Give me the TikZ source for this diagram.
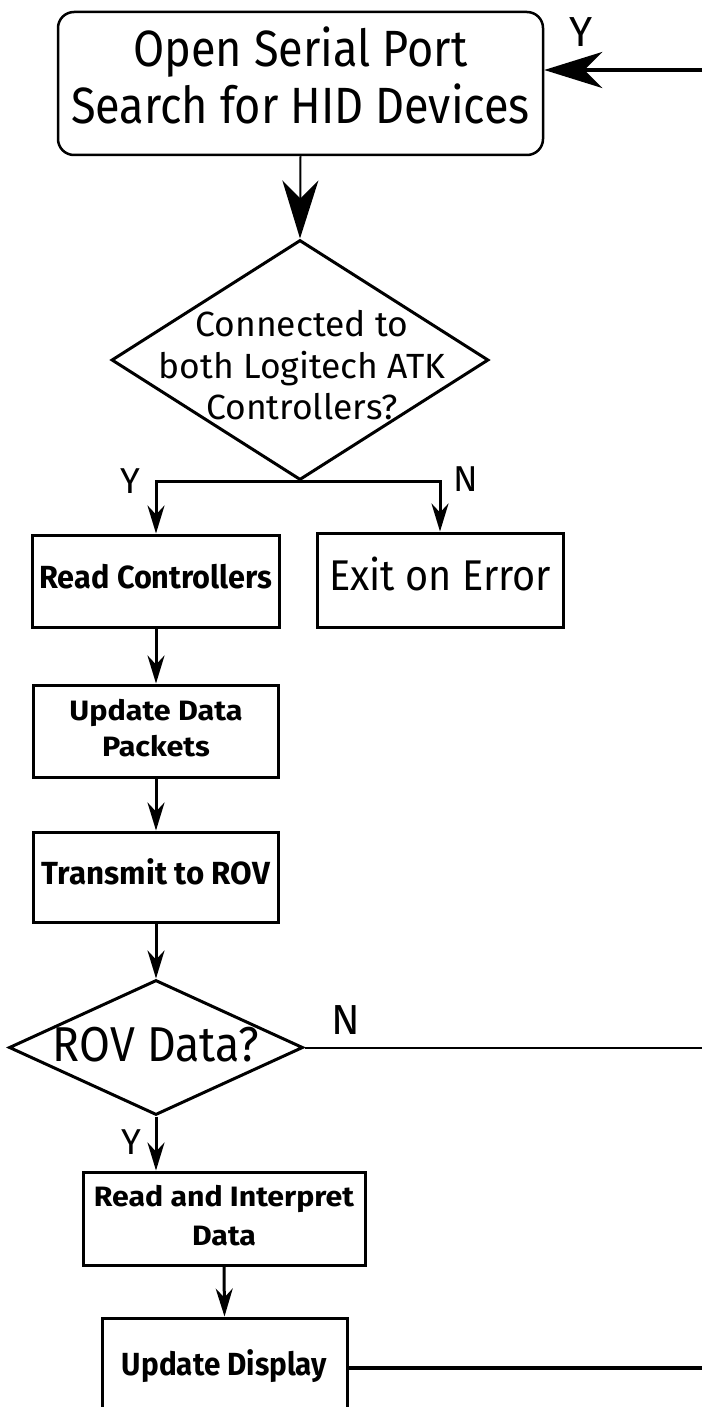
\documentclass[tikz,border=0pt]{standalone}
\usepackage{fontspec}
\setmainfont{Fira Sans}
\usepackage{graphicx}
\usetikzlibrary{shapes.geometric,arrows.meta}
\newcommand\ftext[4]{\resizebox{#1pt}{\height}{\fontsize{#2pt}{#3pt}\selectfont\begin{tabular}{@{}c@{}}#4\end{tabular}}}
\newcommand\btext[4]{\resizebox{#1pt}{\height}{\fontsize{#2pt}{#3pt}\selectfont\bfseries\begin{tabular}{@{}c@{}}#4\end{tabular}}}
\tikzset{
  boxnode/.style={draw, line width=3pt, rectangle, inner sep=0pt, align=center},
  decision/.style={draw, line width=3pt, diamond, inner sep=0pt},
  conn/.style={line width=3pt},
  bigtip/.style={-{Stealth[length=58pt,width=36pt,inset=18pt]}},
  smalltip/.style={-{Stealth[length=28pt,width=17pt,inset=9pt]}},
  lab/.style={inner sep=0pt, font=\fontsize{#1pt}{#1pt}\selectfont},
}
\begin{document}
\begin{tikzpicture}[x=1pt,y=-1pt]
\useasboundingbox (0,0) rectangle (702,1407);
\clip (0,0) rectangle (702,1407);
\fill[white] (0,0) rectangle (702,1407);

% nodes
\node[boxnode, line width=2.5pt, rounded corners=16pt, minimum width=485pt, minimum height=143pt] (top) at (300.5,83.5)
  {\ftext{459}{51}{56}{Open Serial Port\\Search for HID Devices}};
\node[decision, minimum width=377pt, minimum height=240pt] (d1) at (300,360) {};
\node[inner sep=0pt] (d1t) at (302,370) {\ftext{287}{35}{41.5}{Connected to\\both Logitech ATK\\Controllers?}};

\node[boxnode, minimum width=247pt, minimum height=92pt] (rc) at (156,581) {\btext{233}{32}{36}{Read Controllers}};
\node[boxnode, minimum width=246pt, minimum height=94pt] (ex) at (440,580) {\ftext{222}{43}{43}{Exit on Error}};
\node[boxnode, minimum width=245pt, minimum height=92pt] (up) at (156,731) {\btext{173}{28}{36}{Update Data\\Packets}};
\node[boxnode, minimum width=245pt, minimum height=90pt] (tr) at (156,877) {\btext{228}{32}{36}{Transmit to ROV}};
\node[decision, minimum width=294pt, minimum height=135pt] (d2) at (156,1047.5) {};
\node[inner sep=0pt] (d2t) at (156,1051) {\ftext{206}{49}{52}{ROV Data?}};
\node[boxnode, minimum width=282pt, minimum height=93pt] (ri) at (224,1218.5) {\btext{260}{28}{39}{Read and Interpret\\Data}};
\node[boxnode, minimum width=245pt, minimum height=100pt] (ud) at (224.5,1368) {\btext{205}{32}{37}{Update Display}};

% free ends at the right edge
\coordinate (R1) at (702,70);
\coordinate (R2) at (702,1047.5);
\coordinate (R3) at (702,1366);

% labels
\node[lab=42] (ytop) at (581,32) {Y};
\node[lab=36] (y1) at (130,481) {Y};
\node[lab=36] (n1) at (466,479) {N};
\node[lab=42] (n2) at (346,1020) {N};
\node[lab=36] (y2) at (131,1142) {Y};

% connectors
\draw[conn, line width=2pt, bigtip] (top.south) -- (d1.north);
\draw[conn, line width=4pt, bigtip] (R1) -- (R1 -| top.east);
\draw[conn, smalltip] (d1.south) -| (rc.north);
\draw[conn, smalltip] (d1.south) -| (ex.north);
\draw[conn, smalltip] (rc.south) -- (up.north);
\draw[conn, smalltip] (up.south) -- (tr.north);
\draw[conn, smalltip] (tr.south) -- (d2.north);
\draw[conn, line width=2pt] (d2.east) -- (R2);
\draw[conn, smalltip] (d2.south) -- (d2.south |- ri.north);
\draw[conn, smalltip] (ri.south) -- (ud.north);
\draw[conn, line width=4pt] (ud.east) -- (ud.east -| R3);
\end{tikzpicture}
\end{document}
